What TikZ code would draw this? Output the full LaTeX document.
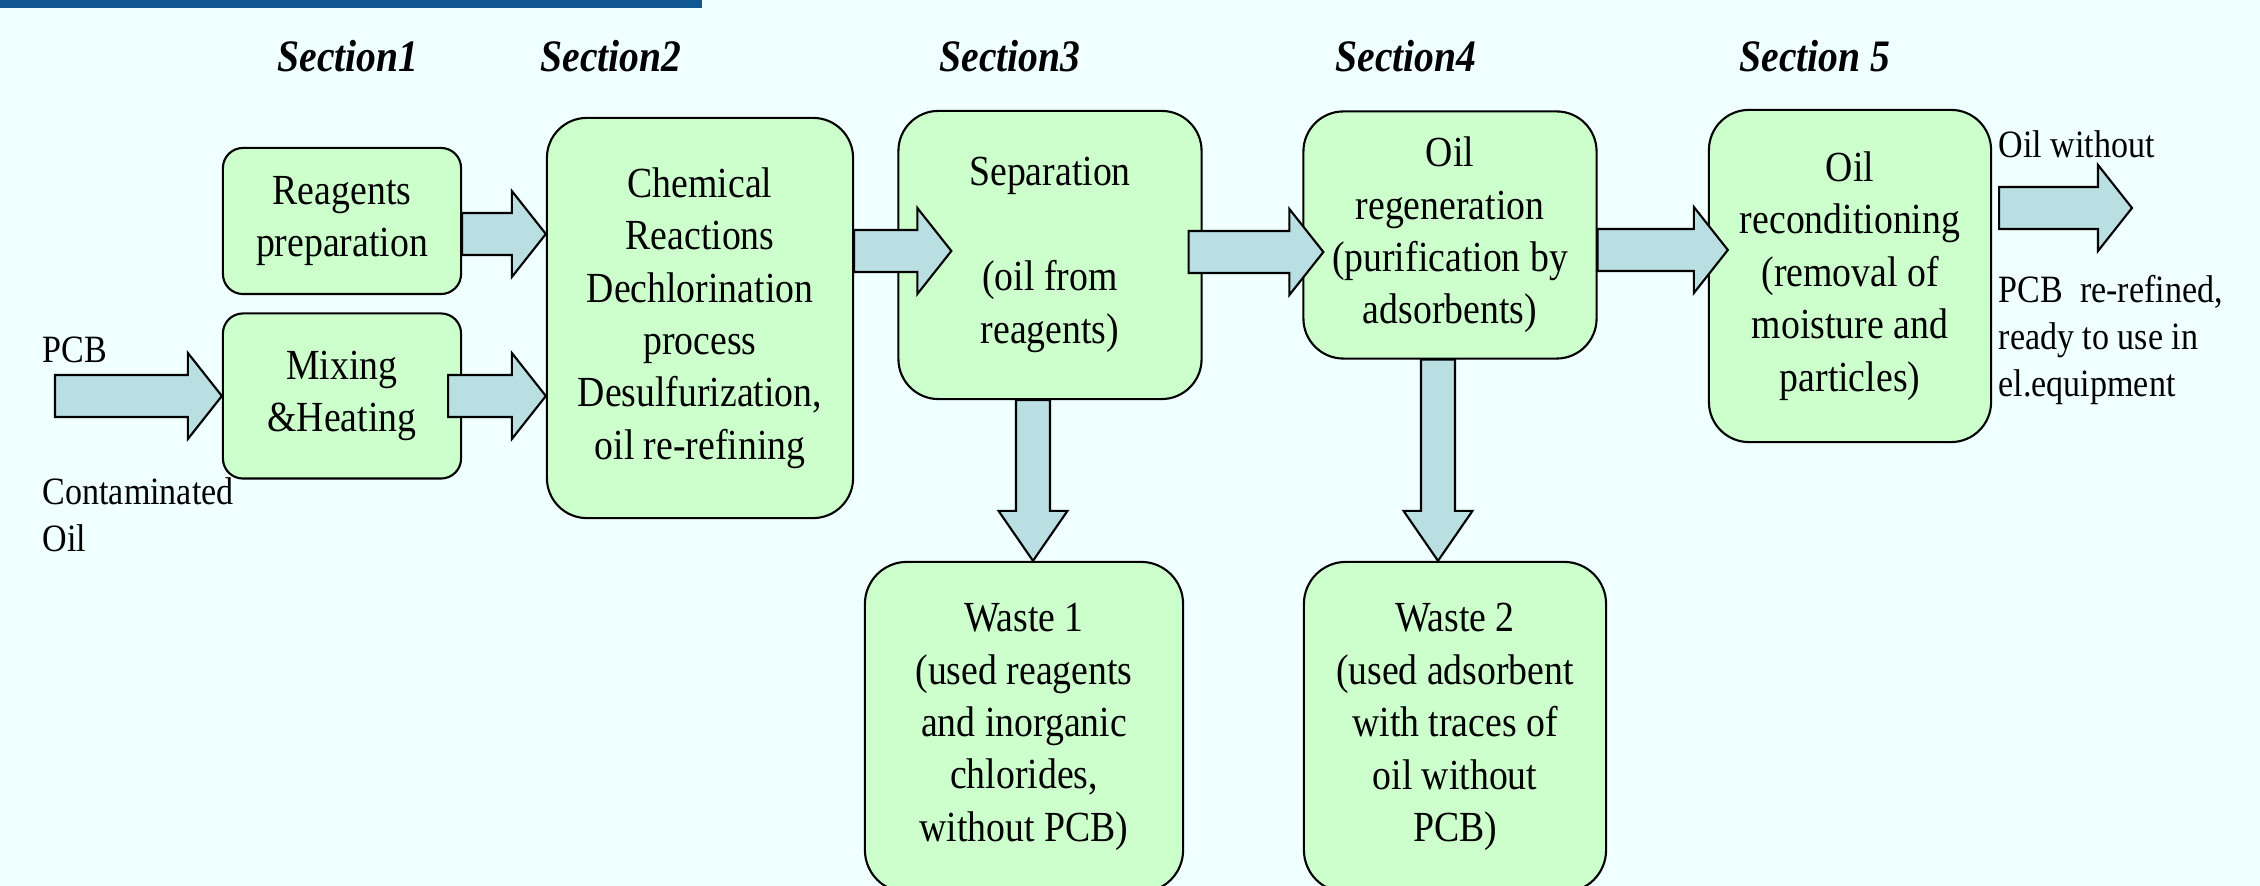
\documentclass[tikz,border=0pt]{standalone}
\usepackage{fontspec}
\setmainfont{Liberation Serif}[FakeStretch=0.88]
\usetikzlibrary{positioning,calc}
\definecolor{pcbbar}{RGB}{16,88,148}
\definecolor{pcbback}{RGB}{240,255,255}
\definecolor{pcbgreen}{RGB}{204,255,204}
\definecolor{pcbarrow}{RGB}{185,223,226}
\newcommand{\boxfont}{\fontsize{12.2}{14.9}\selectfont}
\newcommand{\fatsw}{0.21cm}
\newcommand{\fathw}{0.43cm}
\newcommand{\fathl}{0.34cm}
\newcommand{\dropsw}{0.17cm}
\newcommand{\drophw}{0.345cm}
\newcommand{\drophl}{0.5cm}
% horizontal block arrow: y of the start, x of start and end
\newcommand{\fatarrow}[2]{%
  \path[fat] let \p1=#1, \p2=#2 in
    (\x1,\y1+\fatsw) -- (\x2-\fathl,\y1+\fatsw) -- (\x2-\fathl,\y1+\fathw) -- (\x2,\y1)
    -- (\x2-\fathl,\y1-\fathw) -- (\x2-\fathl,\y1-\fatsw) -- (\x1,\y1-\fatsw) -- cycle;}
% downward block arrow: x of the start, y of start and end
\newcommand{\droparrow}[2]{%
  \path[fat] let \p1=#1, \p2=#2 in
    (\x1-\dropsw,\y1) -- (\x1-\dropsw,\y2+\drophl) -- (\x1-\drophw,\y2+\drophl) -- (\x1,\y2)
    -- (\x1+\drophw,\y2+\drophl) -- (\x1+\dropsw,\y2+\drophl) -- (\x1+\dropsw,\y1) -- cycle;}
\tikzset{
  box/.style={draw, line width=0.6pt, rounded corners=0.4cm, fill=pcbgreen, align=center, inner sep=0pt, font=\boxfont},
  smallbox/.style={box, rounded corners=0.2cm},
  txt/.style={inner sep=0pt, font=\fontsize{11}{13.5}\selectfont},
  sect/.style={inner sep=0pt, font=\fontsize{12.8}{15}\selectfont\bfseries\itshape},
  fat/.style={draw, line width=0.6pt, fill=pcbarrow, line join=miter}
}

\begin{document}
\begin{tikzpicture}[x=0.01cm, y=-0.01cm]
    \useasboundingbox (0,0) rectangle (2260,886);
    \fill[pcbback] (0,0) rectangle (2260,886);
    \fill[pcbbar] (0,0) rectangle (702,8);
    % section titles
    \node[sect, anchor=base] (sec1) at (348,72) {Section1};
    \node[sect, anchor=base] (sec2) at (611,72) {Section2};
    \node[sect, anchor=base] (sec3) at (1010,72) {Section3};
    \node[sect, anchor=base] (sec4) at (1406,72) {Section4};
    \node[sect, anchor=base] (sec5) at (1815,72) {Section 5};
    % process boxes
    \node[smallbox, minimum width=2.38cm, minimum height=1.46cm] (reag) at (342,221) {Reagents\\preparation};
    \node[smallbox, minimum width=2.38cm, minimum height=1.65cm] (mix) at (342,396) {Mixing\\\&Heating};
    \node[box, minimum width=3.06cm, minimum height=4.0cm] (chem) at (700,318) {Chemical\\Reactions\\Dechlorination\\process\\Desulfurization,\\oil re-refining};
    \node[box, minimum width=3.03cm, minimum height=2.88cm] (sep) at (1050,255) {Separation\\[0.525cm](oil from\\reagents)};
    \node[box, minimum width=2.93cm, minimum height=2.47cm] (regen) at (1450,235) {Oil\\regeneration\\(purification by\\adsorbents)};
    \node[box, minimum width=2.82cm, minimum height=3.32cm] (recond) at (1850,276) {Oil\\reconditioning\\(removal of\\moisture and\\particles)};
    \node[box, minimum width=3.18cm, minimum height=3.3cm, rounded corners=0.42cm] (waste1) at (1024,727) {Waste 1\\(used reagents\\and inorganic\\chlorides,\\without PCB)};
    \node[box, minimum width=3.02cm, minimum height=3.3cm, rounded corners=0.42cm] (waste2) at (1455,727) {Waste 2\\(used adsorbent\\with traces of\\oil without\\PCB)};
    % in and out texts (base = last line)
    \node[txt, anchor=base west] (pcb) at (42,363) {PCB};
    \node[txt, anchor=base west, align=left] (contam) at (42,552) {Contaminated\\Oil};
    \node[txt, anchor=base west] (outtop) at (1998,158) {Oil without};
    \node[txt, anchor=base west, align=left] (outbot) at (1998,397) {PCB\ \ re-refined,\\ready to use in\\el.equipment};
    \coordinate (pcbin) at (55,396);
    \coordinate (outtip) at (2132,208);
    % block arrows
    \fatarrow{(pcbin)}{(mix.west)}
    \fatarrow{($(reag.east)+(0,13)$)}{(chem.west)}
    \fatarrow{($(mix.east)+(-14,0)$)}{(chem.west)}
    \fatarrow{($(chem.east)+(0,-67)$)}{($(sep.west)+(54,0)$)}
    \fatarrow{($(sep.east)+(-14,-3)$)}{($(regen.west)+(21,0)$)}
    \fatarrow{($(regen.east)+(0,15)$)}{($(recond.west)+(20,0)$)}
    \fatarrow{($(recond.east)+(7,-68)$)}{(outtip)}
    \droparrow{($(sep.south)+(-17,0)$)}{(waste1.north)}
    \droparrow{($(regen.south)+(-12,0)$)}{(waste2.north)}
\end{tikzpicture}
\end{document}
